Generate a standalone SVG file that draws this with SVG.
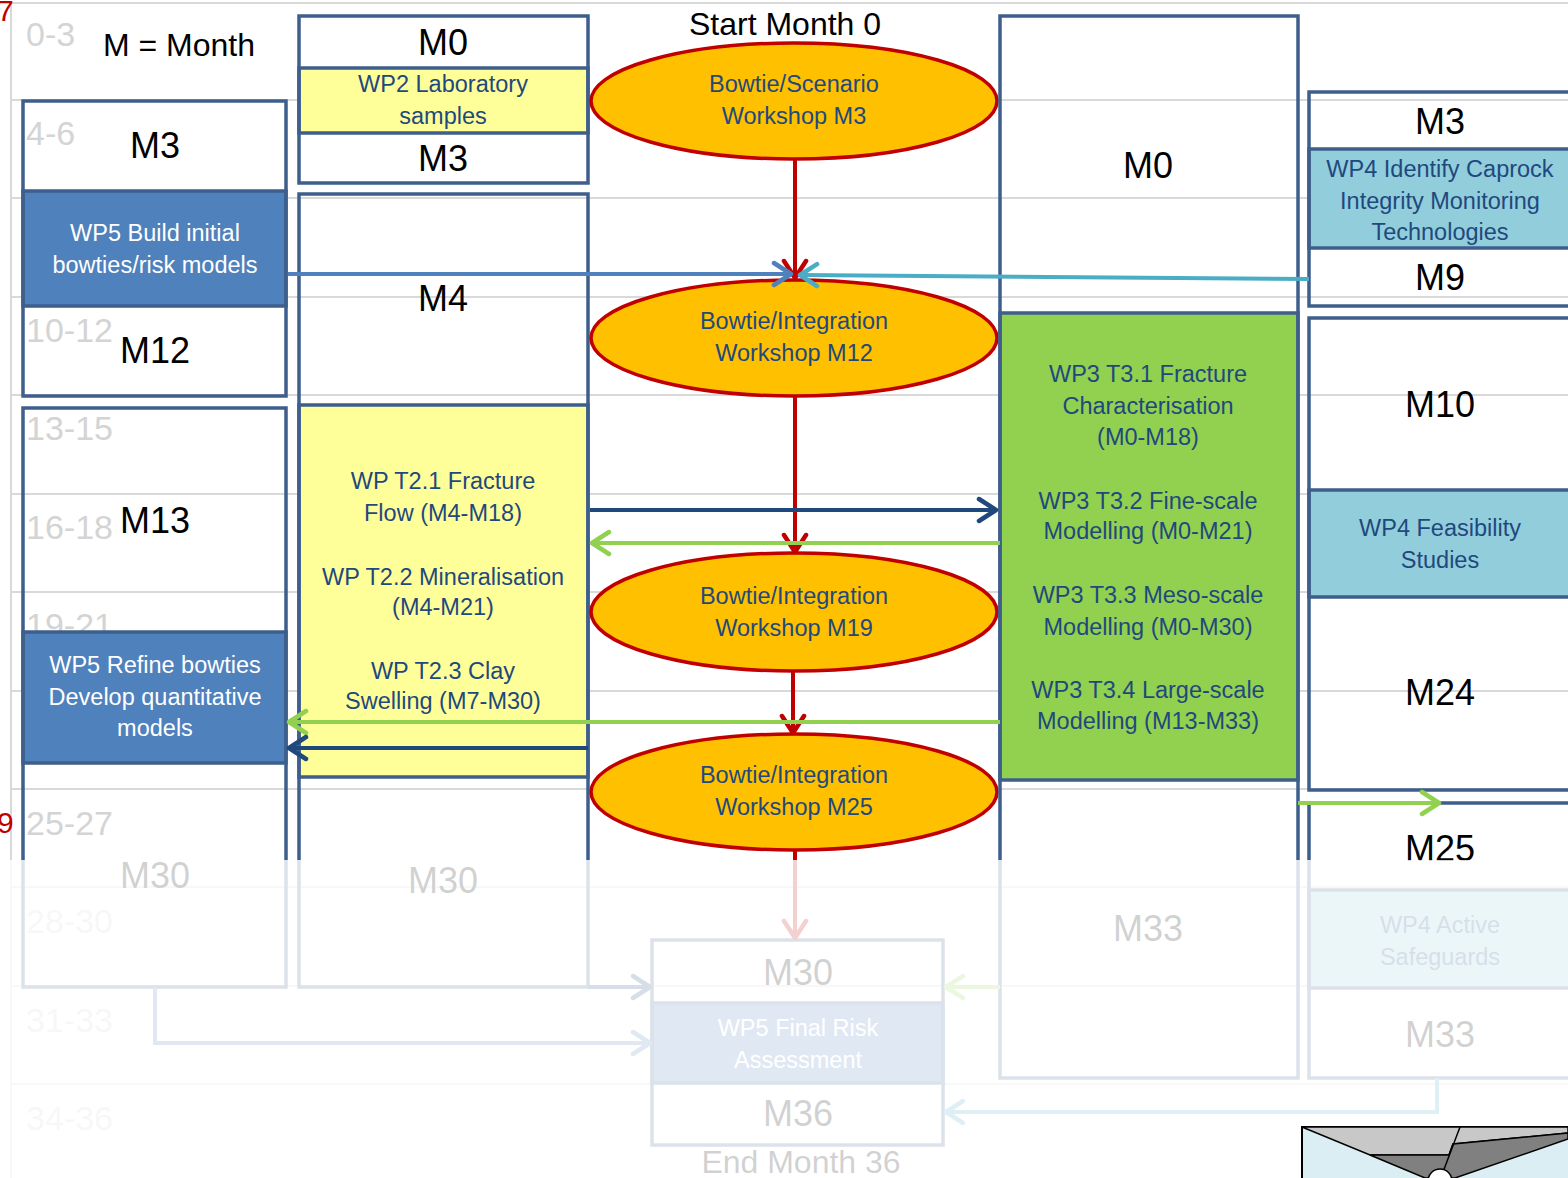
<svg xmlns="http://www.w3.org/2000/svg" width="1568" height="1178" viewBox="0 0 1568 1178">
<style>
.grid{stroke:#d9d9d9;stroke-width:2;fill:none}
.rowlbl{font-family:"Liberation Sans",Arial,sans-serif;font-size:34px;fill:#d4d4d4}
.box{fill:none;stroke:#3e5f8c;stroke-width:3.5}
.sec{stroke:#3e5f8c;stroke-width:3.5}
.wp5{fill:#4f81bd}
.wp4{fill:#92cddc}
.yel{fill:#ffff99}
.grn{fill:#92d050}
.mon{font-family:"Liberation Sans",Arial,sans-serif;font-size:36px;fill:#000;text-anchor:middle}
.t{font-family:"Liberation Sans",Arial,sans-serif;font-size:23.5px;fill:#1f497d;text-anchor:middle}
.tw{font-family:"Liberation Sans",Arial,sans-serif;font-size:23.5px;fill:#ffffff;text-anchor:middle}
.big{font-family:"Liberation Sans",Arial,sans-serif;font-size:32px;fill:#000;text-anchor:middle}
.ell{fill:#ffc000;stroke:#c00000;stroke-width:3.5}
.c{fill:none;stroke-width:4}
</style>
<defs>
<marker id="ar-red" viewBox="0 0 24 28" refX="20" refY="14" markerWidth="24" markerHeight="28" markerUnits="userSpaceOnUse" orient="auto"><path d="M3,3 L20,14 L3,25" fill="none" stroke="#c00000" stroke-width="4.5" stroke-linecap="round" stroke-linejoin="round"/></marker>
<marker id="ar-blue" viewBox="0 0 24 28" refX="20" refY="14" markerWidth="24" markerHeight="28" markerUnits="userSpaceOnUse" orient="auto"><path d="M3,3 L20,14 L3,25" fill="none" stroke="#4f81bd" stroke-width="4.5" stroke-linecap="round" stroke-linejoin="round"/></marker>
<marker id="ar-cyan" viewBox="0 0 24 28" refX="20" refY="14" markerWidth="24" markerHeight="28" markerUnits="userSpaceOnUse" orient="auto"><path d="M3,3 L20,14 L3,25" fill="none" stroke="#4bacc6" stroke-width="4.5" stroke-linecap="round" stroke-linejoin="round"/></marker>
<marker id="ar-navy" viewBox="0 0 24 28" refX="20" refY="14" markerWidth="24" markerHeight="28" markerUnits="userSpaceOnUse" orient="auto"><path d="M3,3 L20,14 L3,25" fill="none" stroke="#1f497d" stroke-width="4.5" stroke-linecap="round" stroke-linejoin="round"/></marker>
<marker id="ar-green" viewBox="0 0 24 28" refX="20" refY="14" markerWidth="24" markerHeight="28" markerUnits="userSpaceOnUse" orient="auto"><path d="M3,3 L20,14 L3,25" fill="none" stroke="#92d050" stroke-width="4.5" stroke-linecap="round" stroke-linejoin="round"/></marker>
</defs>
<rect x="0" y="0" width="1568" height="1178" fill="#ffffff"/>
<g id="grid">
<path class="grid" d="M11,3 H1568 M11,100 H1568 M11,198 H1568 M11,297 H1568 M11,395 H1568 M11,494 H1568 M11,592 H1568 M11,691 H1568 M11,789 H1568 M11,887 H1568 M11,986 H1568 M11,1084 H1568 M11,3 V1178"/>
<text class="rowlbl" x="26" y="46">0-3</text>
<text class="rowlbl" x="26" y="145">4-6</text>
<text class="rowlbl" x="26" y="342">10-12</text>
<text class="rowlbl" x="26" y="440">13-15</text>
<text class="rowlbl" x="26" y="539">16-18</text>
<text class="rowlbl" x="26" y="637">19-21</text>
<text class="rowlbl" x="26" y="835">25-27</text>
<text class="rowlbl" x="26" y="933">28-30</text>
<text class="rowlbl" x="26" y="1032">31-33</text>
<text class="rowlbl" x="26" y="1130">34-36</text>
</g>
<text x="-3" y="21" font-family="Liberation Sans, Arial, sans-serif" font-size="30" fill="#c00000">7</text>
<text x="-3" y="833" font-family="Liberation Sans, Arial, sans-serif" font-size="30" fill="#c00000">9</text>
<text class="big" x="179" y="56">M = Month</text>
<text class="big" x="785" y="35">Start Month 0</text>

<g id="node-wp5-initial">
<rect class="sec wp5" x="23" y="191" width="263" height="115"/>
<rect class="box" x="23" y="101" width="263" height="295"/>
<text class="mon" x="155" y="158">M3</text>
<text class="tw" x="155" y="241">WP5 Build initial</text>
<text class="tw" x="155" y="273">bowties/risk models</text>
<text class="mon" x="155" y="363">M12</text>
</g>
<g id="node-wp5-refine">
<rect class="sec wp5" x="23" y="632" width="263" height="131"/>
<rect class="box" x="23" y="408" width="263" height="579"/>
<text class="mon" x="155" y="533">M13</text>
<text class="tw" x="155" y="673">WP5 Refine bowties</text>
<text class="tw" x="155" y="705">Develop quantitative</text>
<text class="tw" x="155" y="736">models</text>
<text class="mon" x="155" y="888">M30</text>
</g>
<g id="node-wp2-lab">
<rect class="sec yel" x="299" y="68" width="289" height="65"/>
<rect class="box" x="299" y="16" width="289" height="167"/>
<text class="mon" x="443" y="55">M0</text>
<text class="t" x="443" y="92">WP2 Laboratory</text>
<text class="t" x="443" y="124">samples</text>
<text class="mon" x="443" y="171">M3</text>
</g>
<g id="node-wp2-tasks">
<rect class="sec yel" x="299" y="405" width="289" height="372"/>
<rect class="box" x="299" y="194" width="289" height="793"/>
<text class="mon" x="443" y="311">M4</text>
<text class="t" x="443" y="489">WP T2.1 Fracture</text>
<text class="t" x="443" y="521">Flow (M4-M18)</text>
<text class="t" x="443" y="585">WP T2.2 Mineralisation</text>
<text class="t" x="443" y="615">(M4-M21)</text>
<text class="t" x="443" y="679">WP T2.3 Clay</text>
<text class="t" x="443" y="709">Swelling (M7-M30)</text>
<text class="mon" x="443" y="893">M30</text>
</g>
<g id="node-ws-m3">
<ellipse class="ell" cx="794" cy="101" rx="203" ry="58"/>
<text class="t" x="794" y="92">Bowtie/Scenario</text>
<text class="t" x="794" y="124">Workshop M3</text>
</g>
<g id="node-ws-m12">
<ellipse class="ell" cx="794" cy="338" rx="203" ry="58"/>
<text class="t" x="794" y="329">Bowtie/Integration</text>
<text class="t" x="794" y="361">Workshop M12</text>
</g>
<g id="node-ws-m19">
<ellipse class="ell" cx="794" cy="612" rx="203" ry="59"/>
<text class="t" x="794" y="604">Bowtie/Integration</text>
<text class="t" x="794" y="636">Workshop M19</text>
</g>
<g id="node-ws-m25">
<ellipse class="ell" cx="794" cy="792" rx="203" ry="58"/>
<text class="t" x="794" y="783">Bowtie/Integration</text>
<text class="t" x="794" y="815">Workshop M25</text>
</g>
<g id="node-wp5-final">
<rect class="sec wp5" x="652" y="1003" width="291" height="80"/>
<rect class="box" x="652" y="940" width="291" height="205"/>
<text class="mon" x="798" y="985">M30</text>
<text class="tw" x="798" y="1036">WP5 Final Risk</text>
<text class="tw" x="798" y="1068">Assessment</text>
<text class="mon" x="798" y="1126">M36</text>
<text class="big" x="801" y="1173">End Month 36</text>
</g>
<g id="node-wp3">
<rect class="sec grn" x="1000" y="313" width="298" height="467"/>
<rect class="box" x="1000" y="16" width="298" height="1062"/>
<text class="mon" x="1148" y="178">M0</text>
<text class="t" x="1148" y="382">WP3 T3.1 Fracture</text>
<text class="t" x="1148" y="414">Characterisation</text>
<text class="t" x="1148" y="445">(M0-M18)</text>
<text class="t" x="1148" y="509">WP3 T3.2 Fine-scale</text>
<text class="t" x="1148" y="539">Modelling (M0-M21)</text>
<text class="t" x="1148" y="603">WP3 T3.3 Meso-scale</text>
<text class="t" x="1148" y="635">Modelling (M0-M30)</text>
<text class="t" x="1148" y="698">WP3 T3.4 Large-scale</text>
<text class="t" x="1148" y="729">Modelling (M13-M33)</text>
<text class="mon" x="1148" y="941">M33</text>
</g>
<g id="node-wp4-identify">
<rect class="sec wp4" x="1309" y="149" width="263" height="99"/>
<rect class="box" x="1309" y="92" width="263" height="214"/>
<text class="mon" x="1440" y="134">M3</text>
<text class="t" x="1440" y="177">WP4 Identify Caprock</text>
<text class="t" x="1440" y="209">Integrity Monitoring</text>
<text class="t" x="1440" y="240">Technologies</text>
<text class="mon" x="1440" y="290">M9</text>
</g>
<g id="node-wp4-feasibility">
<rect class="sec wp4" x="1309" y="490" width="263" height="107"/>
<rect class="box" x="1309" y="318" width="263" height="472"/>
<text class="mon" x="1440" y="417">M10</text>
<text class="t" x="1440" y="536">WP4 Feasibility</text>
<text class="t" x="1440" y="568">Studies</text>
<text class="mon" x="1440" y="705">M24</text>
</g>
<g id="node-wp4-active">
<rect class="sec wp4" x="1309" y="890" width="263" height="98"/>
<rect class="box" x="1309" y="803" width="263" height="275"/>
<text class="mon" x="1440" y="861">M25</text>
<text class="t" x="1440" y="933">WP4 Active</text>
<text class="t" x="1440" y="965">Safeguards</text>
<text class="mon" x="1440" y="1047">M33</text>
</g>

<g id="connectors">
<path class="c" stroke="#c00000" d="M795,160 V278" marker-end="url(#ar-red)"/>
<path class="c" stroke="#c00000" d="M795,396 V552" marker-end="url(#ar-red)"/>
<path class="c" stroke="#c00000" d="M793,671 V733" marker-end="url(#ar-red)"/>
<path class="c" stroke="#c00000" d="M795,851 V938" marker-end="url(#ar-red)"/>
<path class="c" stroke="#4f81bd" d="M288,274 H791" marker-end="url(#ar-blue)"/>
<path class="c" stroke="#4bacc6" d="M1309,279 L800,275" marker-end="url(#ar-cyan)"/>
<path class="c" stroke="#1f497d" d="M590,510 H996" marker-end="url(#ar-navy)"/>
<path class="c" stroke="#92d050" d="M1000,543 H592" marker-end="url(#ar-green)"/>
<path class="c" stroke="#92d050" d="M1000,722 H289" marker-end="url(#ar-green)"/>
<path class="c" stroke="#1f497d" d="M588,748 H289" marker-end="url(#ar-navy)"/>
<path class="c" stroke="#92d050" d="M1298,803 H1439" marker-end="url(#ar-green)"/>
<path class="c" stroke="#1f497d" d="M588,987 H650" marker-end="url(#ar-navy)"/>
<path class="c" stroke="#4f81bd" d="M155,987 V1043 H650" marker-end="url(#ar-blue)"/>
<path class="c" stroke="#92d050" d="M1000,987 H946" marker-end="url(#ar-green)"/>
<path class="c" stroke="#4bacc6" d="M1437,1078 V1112 H946" marker-end="url(#ar-cyan)"/>
</g>

<rect id="fade" x="0" y="860" width="1568" height="318" fill="#ffffff" fill-opacity="0.82"/>

<g id="corner-graphic">
<rect x="1302" y="1127" width="280" height="60" fill="#daeef3" stroke="#000" stroke-width="2"/>
<polygon points="1302,1127 1568,1127 1568,1133 1453,1144 1449,1155 1370,1155" fill="#c8c8c8" stroke="#000" stroke-width="1.5"/>
<polygon points="1370,1155 1449,1155 1453,1144 1568,1133 1568,1139 1455,1178 1425,1178" fill="#808080" stroke="#000" stroke-width="1.5"/>
<path d="M1460,1127 L1443,1172" stroke="#000" stroke-width="1.5" fill="none"/>
<circle cx="1440" cy="1181" r="12" fill="#ffffff" stroke="#000" stroke-width="1.5"/>
</g>
</svg>
